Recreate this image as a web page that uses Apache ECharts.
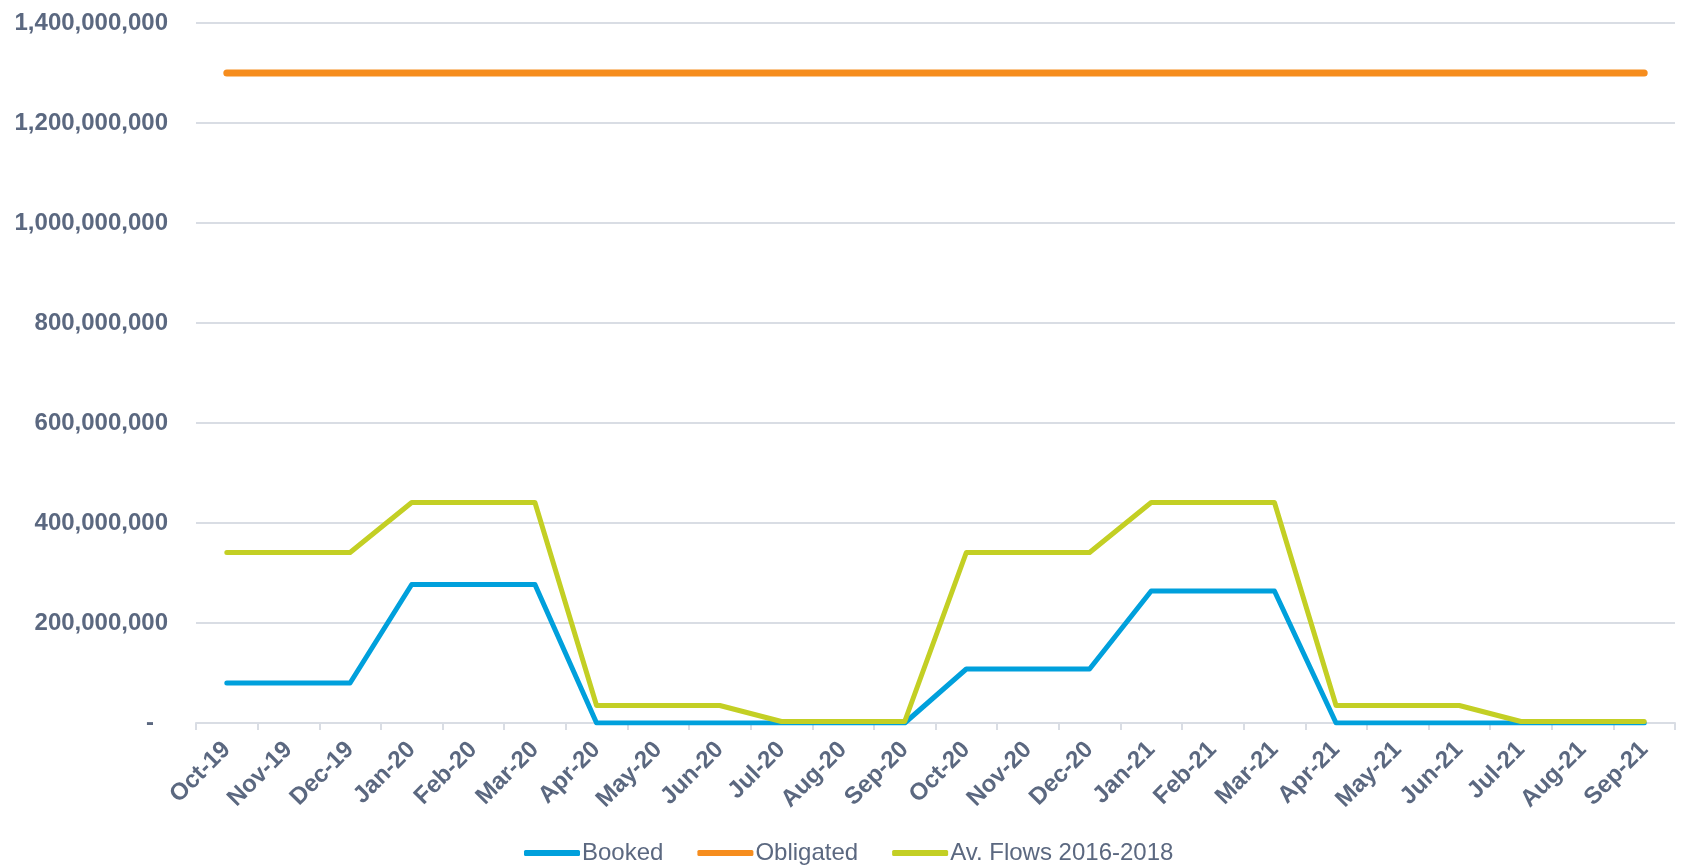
<!DOCTYPE html>
<html>
<head>
<meta charset="utf-8">
<script src="https://cdn.jsdelivr.net/npm/echarts@6/dist/echarts.min.js"></script>
<style>
html,body{margin:0;padding:0;background:#fff;}
#chart{width:1681px;height:866px;}
</style>
</head>
<body>
<div id="chart"></div>
<script>
const categories = ['Oct-19','Nov-19','Dec-19','Jan-20','Feb-20','Mar-20','Apr-20','May-20','Jun-20','Jul-20','Aug-20','Sep-20','Oct-20','Nov-20','Dec-20','Jan-21','Feb-21','Mar-21','Apr-21','May-21','Jun-21','Jul-21','Aug-21','Sep-21'];
const booked = [80e6,80e6,80e6,277e6,277e6,277e6,0,0,0,0,0,0,108e6,108e6,108e6,264e6,264e6,264e6,0,0,0,0,0,0];
const obligated = [1300e6,1300e6,1300e6,1300e6,1300e6,1300e6,1300e6,1300e6,1300e6,1300e6,1300e6,1300e6,1300e6,1300e6,1300e6,1300e6,1300e6,1300e6,1300e6,1300e6,1300e6,1300e6,1300e6,1300e6];
const avFlows = [341e6,341e6,341e6,441e6,441e6,441e6,35e6,35e6,35e6,3e6,3e6,3e6,341e6,341e6,341e6,441e6,441e6,441e6,35e6,35e6,35e6,3e6,3e6,3e6];
const seriesNames = ['Booked','Obligated','Av. Flows 2016-2018'];

const textColor = '#5B6880';
const gridColor = '#D9DDE4';
const font = '"Liberation Sans", Arial, sans-serif';

const chart = echarts.init(document.getElementById('chart'));
chart.setOption({
  animation: false,
  textStyle: { fontFamily: font },
  grid: { left: 196, right: 6, top: 23, bottom: 143, containLabel: false },
  legend: {
    left: 519, top: 836,
    itemWidth: 56, itemHeight: 6, itemGap: 34,
    icon: 'roundRect',
    textStyle: { fontSize: 24, color: textColor, fontFamily: font, padding: [0, 0, 0, -3] },
    data: seriesNames
  },
  xAxis: {
    type: 'category',
    data: categories,
    boundaryGap: true,
    axisLine: { lineStyle: { color: gridColor, width: 2 } },
    axisTick: { show: true, length: 7, lineStyle: { color: gridColor, width: 2 } },
    axisLabel: { rotate: 45, margin: 23, fontSize: 24, fontWeight: 'bold', color: textColor, interval: 0 }
  },
  yAxis: {
    type: 'value',
    min: 0, max: 1400e6, interval: 200e6,
    axisLine: { show: false },
    axisTick: { show: false },
    splitLine: { lineStyle: { color: gridColor, width: 2 } },
    axisLabel: {
      margin: 28, fontSize: 24, fontWeight: 'bold', color: textColor,
      formatter: v => v === 0 ? '{d|-}' : v.toLocaleString('en-US'),
      rich: { d: { fontSize: 24, fontWeight: 'bold', color: textColor, padding: [0, 14, 0, 0] } }
    }
  },
  series: [
    { name: seriesNames[0], type: 'line', data: booked, showSymbol: false, symbol: 'none', z: 3,
      lineStyle: { color: '#00A0DC', width: 5, cap: 'round', join: 'round' }, itemStyle: { color: '#00A0DC' } },
    { name: seriesNames[1], type: 'line', data: obligated, showSymbol: false, symbol: 'none', z: 2,
      lineStyle: { color: '#F68D1E', width: 7, cap: 'round', join: 'round' }, itemStyle: { color: '#F68D1E' } },
    { name: seriesNames[2], type: 'line', data: avFlows, showSymbol: false, symbol: 'none', z: 4,
      lineStyle: { color: '#C3CF24', width: 5, cap: 'round', join: 'round' }, itemStyle: { color: '#C3CF24' } }
  ]
});
</script>
</body>
</html>
